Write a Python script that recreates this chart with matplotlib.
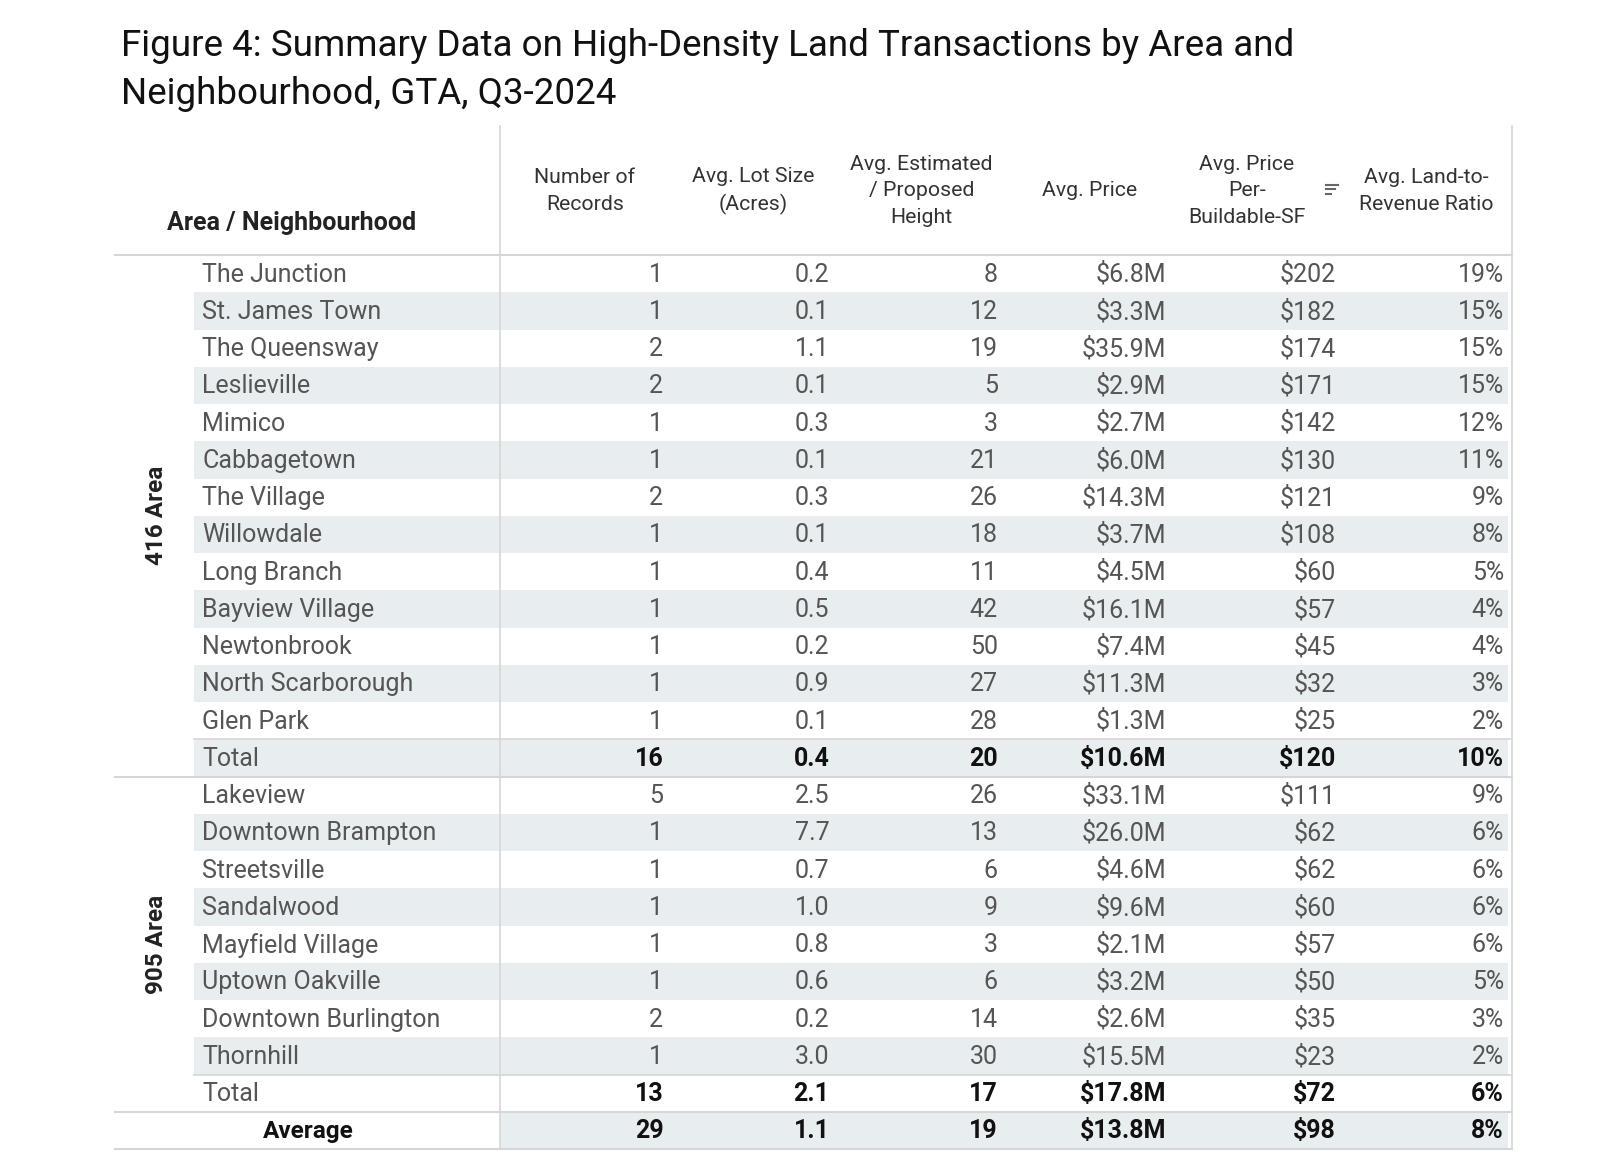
import matplotlib
matplotlib.use("Agg")
import matplotlib.pyplot as plt

plt.rcParams['font.family'] = ['Roboto', 'DejaVu Sans']

TITLE = "Figure 4: Summary Data on High-Density Land Transactions by Area and\nNeighbourhood, GTA, Q3-2024"

COLUMNS = ["Number of\nRecords", "Avg. Lot Size\n(Acres)", "Avg. Estimated\n/ Proposed\nHeight",
           "Avg. Price", "Avg. Price\nPer-\nBuildable-SF", "Avg. Land-to-\nRevenue Ratio"]

AREA_416 = ["The Junction", "St. James Town", "The Queensway", "Leslieville", "Mimico",
            "Cabbagetown", "The Village", "Willowdale", "Long Branch", "Bayview Village",
            "Newtonbrook", "North Scarborough", "Glen Park", "Total"]
records_416 = [1, 1, 2, 2, 1, 1, 2, 1, 1, 1, 1, 1, 1, 16]
lot_416 = [0.2, 0.1, 1.1, 0.1, 0.3, 0.1, 0.3, 0.1, 0.4, 0.5, 0.2, 0.9, 0.1, 0.4]
height_416 = [8, 12, 19, 5, 3, 21, 26, 18, 11, 42, 50, 27, 28, 20]
price_416 = [6.8, 3.3, 35.9, 2.9, 2.7, 6.0, 14.3, 3.7, 4.5, 16.1, 7.4, 11.3, 1.3, 10.6]
ppsf_416 = [202, 182, 174, 171, 142, 130, 121, 108, 60, 57, 45, 32, 25, 120]
ratio_416 = [19, 15, 15, 15, 12, 11, 9, 8, 5, 4, 4, 3, 2, 10]

AREA_905 = ["Lakeview", "Downtown Brampton", "Streetsville", "Sandalwood", "Mayfield Village",
            "Uptown Oakville", "Downtown Burlington", "Thornhill", "Total"]
records_905 = [5, 1, 1, 1, 1, 1, 2, 1, 13]
lot_905 = [2.5, 7.7, 0.7, 1.0, 0.8, 0.6, 0.2, 3.0, 2.1]
height_905 = [26, 13, 6, 9, 3, 6, 14, 30, 17]
price_905 = [33.1, 26.0, 4.6, 9.6, 2.1, 3.2, 2.6, 15.5, 17.8]
ppsf_905 = [111, 62, 62, 60, 57, 50, 35, 23, 72]
ratio_905 = [9, 6, 6, 6, 6, 5, 3, 2, 6]

avg_row = [29, 1.1, 19, 13.8, 98, 8]

# layout is worked in a 1568-wide frame, stretched to the 1600 px output
W, H = 1568, 1150.5
BAND = "#e8eef0"
GRID = "#d6d6d6"
TXT = "#555555"
BODY = 18


def fmt(col, v):
    return [lambda x: f"{x:d}", lambda x: f"{x:.1f}", lambda x: f"{x:d}",
            lambda x: f"${x:.1f}M", lambda x: f"${x:d}", lambda x: f"{x:d}%"][col](v)


fig = plt.figure(figsize=[16, 11.74], dpi=100)
ax = fig.add_axes([0, 0, 1, 1])
ax.set_xlim(0, W)
ax.set_ylim(H, 0)
ax.axis("off")

fig.text(119 / W, 1 - 27 / H, TITLE, fontsize=26.5, va="top", ha="left",
         color="#111111", linespacing=1.45)

left, right = 113, 1482
name_x = 190
divider_x = 490
header_top, header_bot = 123, 250
row_h = 36.5
col_right = [650, 813, 978, 1143, 1309, 1474]
col_center = [573, 738, 903, 1068, 1222, 1398]

groups = [("416 Area", AREA_416, [records_416, lot_416, height_416, price_416, ppsf_416, ratio_416]),
          ("905 Area", AREA_905, [records_905, lot_905, height_905, price_905, ppsf_905, ratio_905])]

# header
ax.text(286, 219, "Area / Neighbourhood", fontsize=18, fontweight="bold",
        ha="center", va="center", color="#222222")
for c, label in enumerate(COLUMNS):
    ax.text(col_center[c], 187, label, fontsize=15.3, ha="center", va="center",
            color="#333333", linespacing=1.5)
# sort icon
for k, ln in enumerate([12, 9, 5]):
    ax.plot([1299, 1299 + ln], [181 + k * 4.5] * 2, color="#666666", lw=1.5)

ax.plot([divider_x, divider_x], [header_top, 1126], color=GRID, lw=1.2)
ax.plot([right, right], [header_top, 1126], color=GRID, lw=1.2)
ax.plot([left, right], [header_bot, header_bot], color=GRID, lw=1.5)

row = 0
for area, names, cols in groups:
    top = header_bot + row * row_h
    for i, name in enumerate(names):
        y0 = header_bot + row * row_h
        yc = y0 + row_h / 2
        if row % 2 == 1:
            ax.add_patch(plt.Rectangle((name_x, y0), right - 4 - name_x, row_h,
                                       color=BAND, lw=0, zorder=0))
        is_total = name == "Total"
        if is_total:
            ax.plot([name_x, right], [y0, y0], color=GRID, lw=1.2)
        ax.text(198, yc + 1, name, fontsize=BODY, ha="left", va="center", color=TXT)
        for c in range(6):
            ax.text(col_right[c], yc + 1, fmt(c, cols[c][i]), fontsize=BODY, ha="right",
                    va="center", color="#111111" if is_total else TXT,
                    fontweight="bold" if is_total else "normal")
        row += 1
    bot = header_bot + row * row_h
    ax.text(153, (top + bot) / 2, area, fontsize=17.5, fontweight="bold", rotation=90,
            ha="center", va="center", color="#222222")
    ax.plot([left, right], [bot, bot], color=GRID, lw=1.5)

# grand average row
y0 = header_bot + row * row_h
yc = y0 + row_h / 2
ax.add_patch(plt.Rectangle((divider_x, y0), right - 4 - divider_x, row_h,
                           color=BAND, lw=0, zorder=0))
ax.text(302, yc + 1, "Average", fontsize=17.5, fontweight="bold", ha="center",
        va="center", color="#111111")
for c in range(6):
    ax.text(col_right[c], yc + 1, fmt(c, avg_row[c]), fontsize=BODY, ha="right",
            va="center", color="#111111", fontweight="bold")
ax.plot([left, right], [y0 + row_h, y0 + row_h], color=GRID, lw=1.5)

fig.savefig("out.png", dpi=100, facecolor="white")
